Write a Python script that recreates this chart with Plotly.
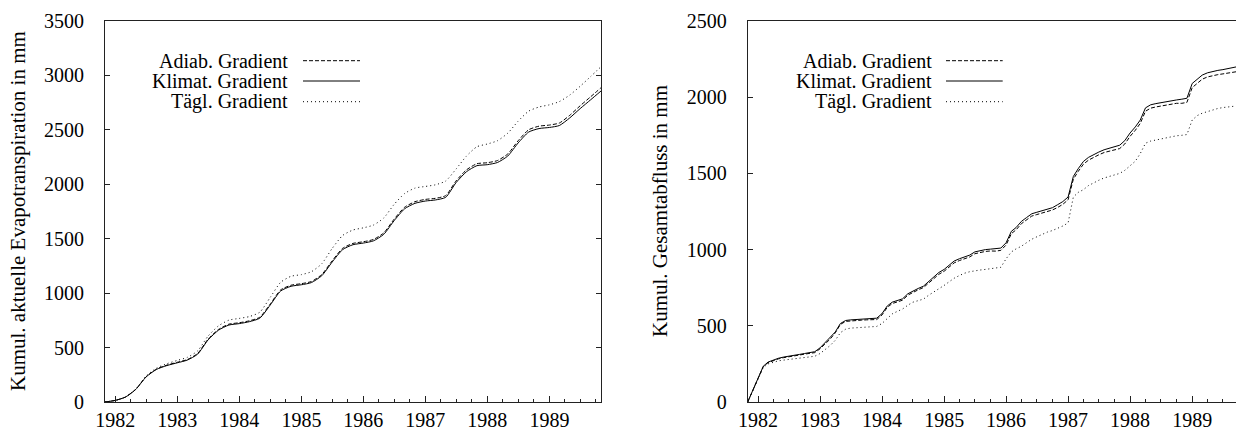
import pandas as pd
import plotly.graph_objects as go

# ---------------- data ----------------
# left panel: cumulative actual evapotranspiration (mm), bimonthly from Nov 1981
et_dates = pd.date_range("1981-11-01", periods=49, freq="2MS")
et_adiab = [0, 15, 45, 116, 232, 303, 339, 365, 390, 446, 577, 667, 715, 728, 746, 779,
            899, 1030, 1073, 1087, 1107, 1171, 1296, 1412, 1457, 1472, 1493, 1553, 1679,
            1789, 1840, 1861, 1871, 1896, 2031, 2133, 2189, 2198, 2218, 2279, 2400, 2501,
            2534, 2544, 2563, 2634, 2721, 2804, 2887]
et_klimat = [0, 15, 45, 115, 230, 300, 335, 360, 385, 440, 570, 660, 707, 720, 738, 770,
             890, 1020, 1063, 1077, 1097, 1160, 1285, 1400, 1445, 1460, 1480, 1540, 1665,
             1775, 1825, 1846, 1856, 1880, 2015, 2116, 2171, 2180, 2200, 2260, 2380, 2480,
             2512, 2522, 2540, 2610, 2695, 2776, 2857]
et_taegl = [0, 15, 45, 118, 238, 312, 352, 382, 410, 470, 605, 700, 752, 768, 785, 825,
            960, 1100, 1155, 1170, 1197, 1270, 1410, 1530, 1580, 1600, 1625, 1690, 1815,
            1915, 1965, 1980, 1995, 2030, 2140, 2260, 2345, 2370, 2400, 2470, 2580, 2672,
            2710, 2730, 2760, 2820, 2900, 2990, 3080]

# right panel: cumulative total runoff (mm), monthly from Nov 1981
q_dates = pd.date_range("1981-11-01", periods=97, freq="MS")
q_adiab = [0, 75, 160, 233, 258, 273, 283, 291, 298, 303, 308, 314,
           317, 324, 349, 384, 412, 454, 509, 529, 533, 535, 537, 539,
           538, 541, 571, 621, 646, 656, 668, 701, 721, 736, 751, 781,
           809, 838, 858, 888, 913, 928, 940, 952, 973, 983, 988, 991,
           990, 995, 1030, 1105, 1130, 1170, 1195, 1220, 1230, 1240, 1247, 1260,
           1277, 1297, 1327, 1462, 1512, 1560, 1587, 1607, 1622, 1637, 1647, 1657,
           1663, 1693, 1743, 1783, 1828, 1908, 1928, 1936, 1943, 1948, 1954, 1960,
           1960, 1966, 2063, 2093, 2118, 2133, 2142, 2148, 2153, 2159, 2168, 2172,
           2175]
q_klimat = [0, 75, 160, 235, 262, 277, 287, 295, 302, 307, 312, 318,
            323, 330, 355, 390, 418, 460, 515, 535, 539, 541, 543, 545,
            547, 550, 580, 630, 655, 665, 677, 710, 730, 745, 760, 790,
            821, 850, 870, 900, 925, 940, 952, 964, 985, 995, 1000, 1003,
            1005, 1010, 1045, 1120, 1145, 1185, 1210, 1235, 1245, 1255, 1262, 1275,
            1295, 1315, 1345, 1480, 1530, 1578, 1605, 1625, 1640, 1655, 1665, 1675,
            1685, 1715, 1765, 1805, 1850, 1930, 1950, 1958, 1965, 1970, 1976, 1982,
            1987, 1993, 2090, 2120, 2145, 2160, 2170, 2176, 2181, 2188, 2198, 2202,
            2205]
q_taegl = [0, 75, 158, 228, 250, 262, 270, 275, 280, 284, 288, 292,
           296, 300, 318, 345, 370, 405, 455, 478, 485, 487, 489, 491,
           493, 496, 515, 550, 578, 595, 610, 635, 655, 665, 675, 700,
           720, 742, 765, 790, 812, 830, 845, 855, 862, 866, 870, 874,
           878, 884, 940, 985, 1005, 1022, 1045, 1068, 1084, 1100, 1115, 1125,
           1140, 1155, 1175, 1345, 1375, 1393, 1420, 1440, 1455, 1470, 1480, 1490,
           1500, 1520, 1550, 1580, 1630, 1698, 1712, 1720, 1725, 1735, 1742, 1747,
           1750, 1755, 1850, 1880, 1895, 1907, 1918, 1926, 1932, 1937, 1942, 1945,
           1948]

series_names = ["Adiab. Gradient", "Klimat. Gradient", "Tägl. Gradient"]
dashes = ["4px,2px", "solid", "1px,3px"]
year_ticks = ["1982-01-01", "1983-01-01", "1984-01-01", "1985-01-01",
              "1986-01-01", "1987-01-01", "1988-01-01", "1989-01-01"]
ylabel_left = "Kumul. aktuelle Evapotranspiration in mm"
ylabel_right = "Kumul. Gesamtabfluss in mm"

# ---------------- figure ----------------
W, H = 1236, 432
FONT = "Liberation Serif"
fig = go.Figure()

for ys, nm, ds in zip([et_adiab, et_klimat, et_taegl], series_names, dashes):
    fig.add_trace(go.Scatter(x=et_dates, y=ys, name=nm, mode="lines",
                             line=dict(color="black", width=1, dash=ds, shape="spline", smoothing=0.6),
                             xaxis="x", yaxis="y", showlegend=False, hoverinfo="skip"))
for ys, nm, ds in zip([q_adiab, q_klimat, q_taegl], series_names, dashes):
    fig.add_trace(go.Scatter(x=q_dates, y=ys, name=nm, mode="lines",
                             line=dict(color="black", width=1, dash=ds),
                             xaxis="x2", yaxis="y2", showlegend=False, hoverinfo="skip"))

def px_x(p):
    return p / W

def px_y(p):
    return 1 - p / H

ydom = [px_y(402), px_y(21)]
axis_common = dict(showgrid=False, zeroline=False, showline=True, linecolor="#222",
                   linewidth=1, ticks="inside", tickcolor="#222", automargin=False,
                   tickfont=dict(family=FONT, size=20, color="black"))

xcommon = dict(axis_common, type="date", tickvals=year_ticks, tickformat="%Y", ticklen=6,
               minor=dict(ticks="inside", dtick="M3", tick0="1982-01-01", ticklen=3,
                          tickcolor="#222", showgrid=False),
               ticklabelstandoff=0)

fig.update_layout(
    template="none",
    width=W, height=H, margin=dict(l=0, r=0, t=0, b=0, pad=0, autoexpand=False),
    paper_bgcolor="white", plot_bgcolor="white",
    font=dict(family=FONT, size=20, color="black"),
    showlegend=False,
    xaxis=dict(xcommon, domain=[px_x(105), px_x(601)], anchor="y",
               range=["1981-11-01", "1989-11-01"], mirror=True),
    yaxis=dict(axis_common, domain=ydom, anchor="x", range=[0, 3500], dtick=500,
               ticklen=5, mirror="ticks", ticklabelstandoff=16),
    xaxis2=dict(xcommon, domain=[px_x(747.7), 1.0], anchor="y2",
                range=["1981-11-01", "1989-09-16"], mirror=True),
    yaxis2=dict(axis_common, domain=ydom, anchor="x2", range=[0, 2500], dtick=500,
                ticklen=5, mirror=False, ticklabelstandoff=16),
)

# y-axis titles
fig.add_annotation(x=px_x(18.5), y=px_y(211.5), xref="paper", yref="paper",
                   text=ylabel_left, textangle=-90, showarrow=False,
                   font=dict(family=FONT, size=21), xanchor="center", yanchor="middle")
fig.add_annotation(x=px_x(660.5), y=px_y(211.5), xref="paper", yref="paper",
                   text=ylabel_right, textangle=-90, showarrow=False,
                   font=dict(family=FONT, size=21), xanchor="center", yanchor="middle")

# in-plot keys (text right, sample line on the right side)
rows = [60.7, 81.0, 101.7]
for text_right, l0, l1 in [(289.3, 303, 360), (932.7, 946, 1002.7)]:
    for nm, ds, yy in zip(series_names, dashes, rows):
        fig.add_annotation(x=px_x(text_right), y=px_y(yy), xref="paper", yref="paper",
                           text=nm, showarrow=False, xanchor="right", yanchor="middle",
                           borderpad=0, font=dict(family=FONT, size=20))
        fig.add_shape(type="line", xref="paper", yref="paper",
                      x0=px_x(l0), x1=px_x(l1), y0=px_y(yy), y1=px_y(yy),
                      line=dict(color="black", width=1, dash=ds))

fig.write_html("out.html")
